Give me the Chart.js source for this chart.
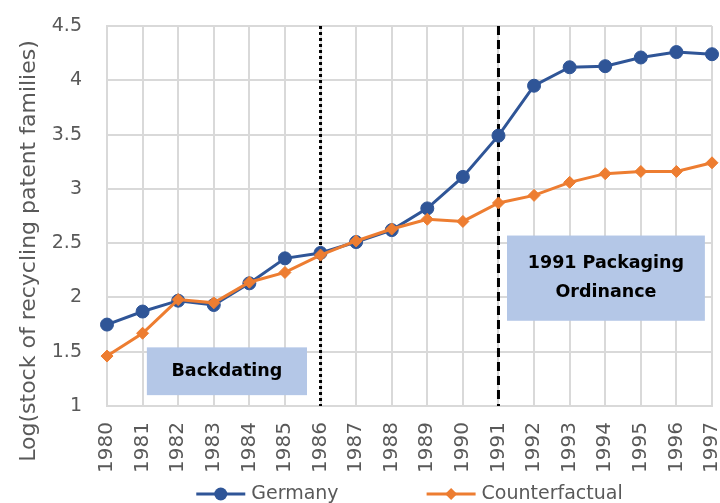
<!DOCTYPE html>
<html><head><meta charset="utf-8">
<script src="https://cdn.jsdelivr.net/npm/chart.js@4"></script>
<style>html,body{margin:0;padding:0;background:#fff}</style>
</head><body>
<canvas id="c" width="720" height="503"></canvas>
<script>
const years = ['1980','1981','1982','1983','1984','1985','1986','1987','1988','1989','1990','1991','1992','1993','1994','1995','1996','1997'];
const germany = [1.75,1.87,1.97,1.93,2.13,2.36,2.41,2.51,2.62,2.82,3.11,3.49,3.95,4.12,4.13,4.21,4.26,4.24];
const counterfactual = [1.46,1.67,1.98,1.95,2.14,2.23,2.39,2.52,2.63,2.72,2.70,2.87,2.94,3.06,3.14,3.16,3.16,3.24];
const yTicks = [1,1.5,2,2.5,3,3.5,4,4.5];
const seriesNames = ['Germany','Counterfactual'];
const yTitle = 'Log(stock of recycling patent families)';
const dottedYear = '1986';
const dashedYear = '1991';
const noteBackdating = ['Backdating'];
const noteOrdinance = ['1991 Packaging','Ordinance'];

const FONT = 'DejaVu Sans';
const GREY = '#595959';
const BLUE = '#2F5597';
const ORANGE = '#ED7D31';

const refLines = {
  id: 'refLines',
  beforeDatasetsDraw(chart) {
    const {ctx, chartArea, scales} = chart;
    const draw = (year, dash) => {
      const x = scales.x.getPixelForValue(years.indexOf(year));
      ctx.save();
      ctx.strokeStyle = '#000';
      ctx.lineWidth = 3;
      ctx.setLineDash(dash);
      ctx.beginPath();
      ctx.moveTo(x, chartArea.top);
      ctx.lineTo(x, chartArea.bottom);
      ctx.stroke();
      ctx.restore();
    };
    draw(dottedYear, [3, 3]);
    draw(dashedYear, [9, 5]);
  }
};

const notes = {
  id: 'notes',
  afterDatasetsDraw(chart) {
    const {ctx, scales} = chart;
    const boxes = [
      {lines: noteBackdating, x0: 1.12, x1: 5.62, y0: 1.54, y1: 1.10},
      {lines: noteOrdinance, x0: 11.24, x1: 16.8, y0: 2.57, y1: 1.785}
    ];
    ctx.save();
    boxes.forEach(b => {
      const l = scales.x.getPixelForValue(b.x0), r = scales.x.getPixelForValue(b.x1);
      const t = scales.y.getPixelForValue(b.y0), bt = scales.y.getPixelForValue(b.y1);
      ctx.fillStyle = '#B4C7E7';
      ctx.fillRect(l, t, r - l, bt - t);
      ctx.fillStyle = '#000';
      ctx.font = 'bold 17.5px "' + FONT + '"';
      ctx.textAlign = 'center';
      ctx.textBaseline = 'middle';
      const lh = 29;
      const cy = (t + bt) / 2 - (b.lines.length - 1) * lh / 2;
      b.lines.forEach((s, i) => ctx.fillText(s, (l + r) / 2, cy + i * lh));
    });
    ctx.restore();
  }
};

const yTitlePlugin = {
  id: 'yTitle',
  afterDraw(chart) {
    const {ctx} = chart;
    ctx.save();
    ctx.translate(29, 251);
    ctx.rotate(-Math.PI / 2);
    ctx.font = '22px "' + FONT + '"';
    ctx.fillStyle = GREY;
    ctx.textAlign = 'center';
    ctx.textBaseline = 'middle';
    ctx.fillText(yTitle, 0, 0);
    ctx.restore();
  }
};

const legendPlugin = {
  id: 'customLegend',
  afterDraw(chart) {
    const {ctx, chartArea} = chart;
    ctx.save();
    ctx.font = '19px "' + FONT + '"';
    const lineW = 49, gapText = 6, gapItem = 88;
    const ds = chart.data.datasets.slice().sort((a, b) => a.legendIndex - b.legendIndex);
    const widths = ds.map(d => ctx.measureText(d.label).width);
    const total = widths.reduce((s, w) => s + lineW + gapText + w, 0) + gapItem * (ds.length - 1);
    let x = (chartArea.left + chartArea.right) / 2 - total / 2;
    const y = 494;
    ds.forEach((d, i) => {
      ctx.strokeStyle = d.borderColor;
      ctx.lineWidth = 3;
      ctx.beginPath();
      ctx.moveTo(x, y);
      ctx.lineTo(x + lineW, y);
      ctx.stroke();
      ctx.fillStyle = d.borderColor;
      ctx.beginPath();
      const cx = x + lineW / 2;
      if (d.pointStyle === 'circle') {
        ctx.arc(cx, y, d.pointRadius, 0, Math.PI * 2);
      } else {
        const r = d.pointRadius;
        ctx.moveTo(cx - r, y); ctx.lineTo(cx, y - r); ctx.lineTo(cx + r, y); ctx.lineTo(cx, y + r); ctx.closePath();
      }
      ctx.fill();
      ctx.fillStyle = GREY;
      ctx.textAlign = 'left';
      ctx.textBaseline = 'middle';
      ctx.fillText(d.label, x + lineW + gapText, y);
      x += lineW + gapText + widths[i] + gapItem;
    });
    ctx.restore();
  }
};

new Chart(document.getElementById('c'), {
  type: 'line',
  data: {
    labels: years,
    datasets: [
      {label: seriesNames[0], legendIndex: 0, data: germany, borderColor: BLUE, backgroundColor: BLUE,
       borderWidth: 3, pointStyle: 'circle', pointRadius: 6.5, pointBorderWidth: 1, pointBackgroundColor: BLUE,
       tension: 0, clip: false, order: 1},
      {label: seriesNames[1], legendIndex: 1, data: counterfactual, borderColor: ORANGE, backgroundColor: ORANGE,
       borderWidth: 3, pointStyle: 'rectRot', pointRadius: 6, pointBorderWidth: 1, pointBackgroundColor: ORANGE,
       tension: 0, clip: false, order: 0}
    ]
  },
  options: {
    responsive: false,
    animation: false,
    layout: {padding: {left: 0, right: 8, top: 26, bottom: 27}},
    plugins: {legend: {display: false}, tooltip: {enabled: false}},
    scales: {
      x: {
        type: 'category',
        offset: false,
        grid: {color: '#D9D9D9', lineWidth: 2, drawTicks: false},
        border: {color: '#D9D9D9', width: 2},
        ticks: {color: GREY, font: {family: FONT, size: 20}, minRotation: 90, maxRotation: 90, autoSkip: false, padding: 16},
        afterFit(s) { s.height = 70; s.paddingRight = 0; s.paddingLeft = 0; }
      },
      y: {
        min: 1, max: 4.5,
        afterBuildTicks(s) { s.ticks = yTicks.map(v => ({value: v})); },
        grid: {color: '#D9D9D9', lineWidth: 2, drawTicks: false},
        border: {color: '#D9D9D9', width: 2},
        ticks: {color: GREY, font: {family: FONT, size: 19}, padding: 25, callback: v => String(v)},
        title: {display: false},
        afterFit(s) { s.width = 107; s.paddingTop = 0; s.paddingBottom = 0; }
      }
    }
  },
  plugins: [refLines, notes, yTitlePlugin, legendPlugin]
});
</script>
</body></html>
